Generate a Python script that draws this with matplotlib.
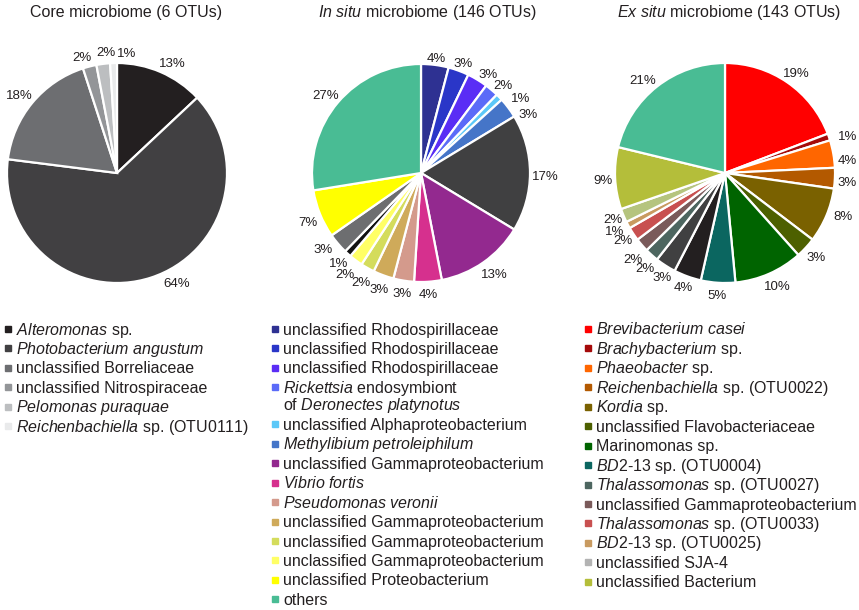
import numpy as np
import matplotlib.pyplot as plt

plt.rcParams['font.family'] = ['Liberation Sans', 'DejaVu Sans']
plt.rcParams['mathtext.fontset'] = 'custom'
plt.rcParams['mathtext.rm'] = 'Liberation Sans'
plt.rcParams['mathtext.it'] = 'Liberation Sans:italic'
plt.rcParams['text.color'] = '#231f20'

# core microbiome
core_pct = [13, 64, 18, 2, 2, 1]
core_colors = ['#231f20', '#414042', '#6d6e71', '#939598', '#bcbec0', '#e9eaeb']
core_names = [r'$\mathit{Alteromonas}$ sp.',
              r'$\mathit{Photobacterium\ angustum}$',
              'unclassified Borreliaceae',
              'unclassified Nitrospiraceae',
              r'$\mathit{Pelomonas\ puraquae}$',
              r'$\mathit{Reichenbachiella}$ sp. (OTU0111)']
core_legend_idx = [0, 1, 2, 3, 4, 5]

# in situ microbiome
insitu_pct = [4, 3, 3, 2, 1, 3, 17, 13, 4, 3, 3, 2, 2, 1, 3, 7, 27]
insitu_colors = ['#2e3192', '#2a36c8', '#5a2df5', '#5b6bf8', '#5bc8f8', '#4575c8',
                 '#404041', '#93298f', '#d6308e', '#d49a8c', '#cfaa5a', '#d4dc5c',
                 '#ffff66', '#111111', '#6d6e70', '#ffff00', '#49bc94']
insitu_names = ['unclassified Rhodospirillaceae',
                'unclassified Rhodospirillaceae',
                'unclassified Rhodospirillaceae',
                r'$\mathit{Rickettsia}$ endosymbiont' + '\n' + r'of $\mathit{Deronectes\ platynotus}$',
                'unclassified Alphaproteobacterium',
                r'$\mathit{Methylibium\ petroleiphilum}$',
                'unclassified Gammaproteobacterium',
                r'$\mathit{Vibrio\ fortis}$',
                r'$\mathit{Pseudomonas\ veronii}$',
                'unclassified Gammaproteobacterium',
                'unclassified Gammaproteobacterium',
                'unclassified Gammaproteobacterium',
                'unclassified Proteobacterium',
                'others']
insitu_legend_idx = [0, 1, 2, 3, 4, 5, 7, 8, 9, 10, 11, 12, 15, 16]

# ex situ microbiome
exsitu_pct = [19, 1, 4, 3, 8, 3, 10, 5, 4, 3, 2, 2, 2, 1, 2, 9, 21]
exsitu_colors = ['#ff0000', '#a50a0a', '#ff6600', '#b35900', '#7a6100', '#4d6000',
                 '#006400', '#0b6660', '#231f20', '#404041', '#4d6660', '#7a5a5a',
                 '#c85050', '#c89a60', '#b5c47e', '#b4be3a', '#49bc94']
exsitu_names = [r'$\mathit{Brevibacterium\ casei}$',
                r'$\mathit{Brachybacterium}$ sp.',
                r'$\mathit{Phaeobacter}$ sp.',
                r'$\mathit{Reichenbachiella}$ sp. (OTU0022)',
                r'$\mathit{Kordia}$ sp.',
                'unclassified Flavobacteriaceae',
                'Marinomonas sp.',
                r'$\mathit{BD2}$-$\mathit{13}$ sp. (OTU0004)',
                r'$\mathit{Thalassomonas}$ sp. (OTU0027)',
                'unclassified Gammaproteobacterium',
                r'$\mathit{Thalassomonas}$ sp. (OTU0033)',
                r'$\mathit{BD2}$-$\mathit{13}$ sp. (OTU0025)',
                'unclassified SJA-4',
                'unclassified Bacterium']
exsitu_legend_idx = [0, 1, 2, 3, 4, 5, 6, 7, 10, 11, 12, 13, 14, 15]
exsitu_legend_colors = {14: '#b3b3b3'}

W, H = 859, 610
fig = plt.figure(figsize=(W / 100, H / 100), dpi=100)
overlay = fig.add_axes([0, 0, 1, 1])
overlay.set_xlim(0, W)
overlay.set_ylim(H, 0)
overlay.axis('off')


def draw_pie(cx, cy, r, pct, colors, title, tx, nudge):
    ax = fig.add_axes([(cx - r) / W, (H - cy - r) / H, 2 * r / W, 2 * r / H])
    wedges, texts = ax.pie(pct, colors=colors, labels=[f'{p}%' for p in pct],
                           startangle=90, counterclock=False,
                           wedgeprops=dict(edgecolor='white', linewidth=1.6),
                           textprops=dict(fontsize=9.5))
    ax.set_xlim(-1, 1)
    ax.set_ylim(-1, 1)
    ren = fig.canvas.get_renderer()
    for i, (w, t) in enumerate(zip(wedges, texts)):
        ang = np.deg2rad((w.theta1 + w.theta2) / 2)
        hw = t.get_window_extent(ren).width / 2
        ext = 2 + hw * abs(np.cos(ang)) + 6.5 * abs(np.sin(ang))
        d = 1 + ext / r
        dx, dy = nudge.get(i, (0, 0))
        t.set_position((d * np.cos(ang) + dx / r, d * np.sin(ang) - (dy + 4) / r))
        t.set_ha('center')
        t.set_va('center')
    overlay.text(tx, 12, title, ha='center', va='center', fontsize=11.5)
    return wedges


def draw_legend(wedges, idx, names, x, extra=None):
    y = 329
    for i, name in zip(idx, names):
        c = wedges[i].get_facecolor()
        if extra and i in extra:
            c = extra[i]
        overlay.plot(x + 3.5, y, marker='s', markersize=5, color=c, linestyle='')
        lines = name.split('\n')
        for k, line in enumerate(lines):
            overlay.text(x + 12, y + 5.5, line, ha='left', va='baseline', fontsize=11.5)
            if k < len(lines) - 1:
                y += 17.5
        y += 19.45


w1 = draw_pie(117, 173, 110, core_pct, core_colors, 'Core microbiome (6 OTUs)', 126,
              {0: (6, 0), 1: (22, -9), 3: (-5, -2), 4: (4, -5), 5: (13, -4)})
w2 = draw_pie(421, 173, 109, insitu_pct, insitu_colors,
              r'$\mathit{In\ situ}$ microbiome (146 OTUs)', 427,
              {2: (4, 2), 3: (3, 2), 4: (12, 7), 5: (9, 11), 7: (2, -4),
               12: (-3, 0), 13: (0, -4), 14: (-5, -6)})
w3 = draw_pie(725, 173, 110, exsitu_pct, exsitu_colors,
              r'$\mathit{Ex\ situ}$ microbiome (143 OTUs)', 729,
              {1: (6, 0), 2: (2, 5), 4: (4, -8), 5: (0, -3), 6: (3, -3),
               8: (0, -3), 9: (3, -2), 10: (2, 0), 11: (1, 2), 12: (1, -4),
               13: (-1, -3), 14: (2, -5), 15: (0, -2), 16: (-5, 3)})

draw_legend(w1, core_legend_idx, core_names, 4)
draw_legend(w2, insitu_legend_idx, insitu_names, 271)
draw_legend(w3, exsitu_legend_idx, exsitu_names, 584, exsitu_legend_colors)

plt.savefig('out.png', dpi=100)
